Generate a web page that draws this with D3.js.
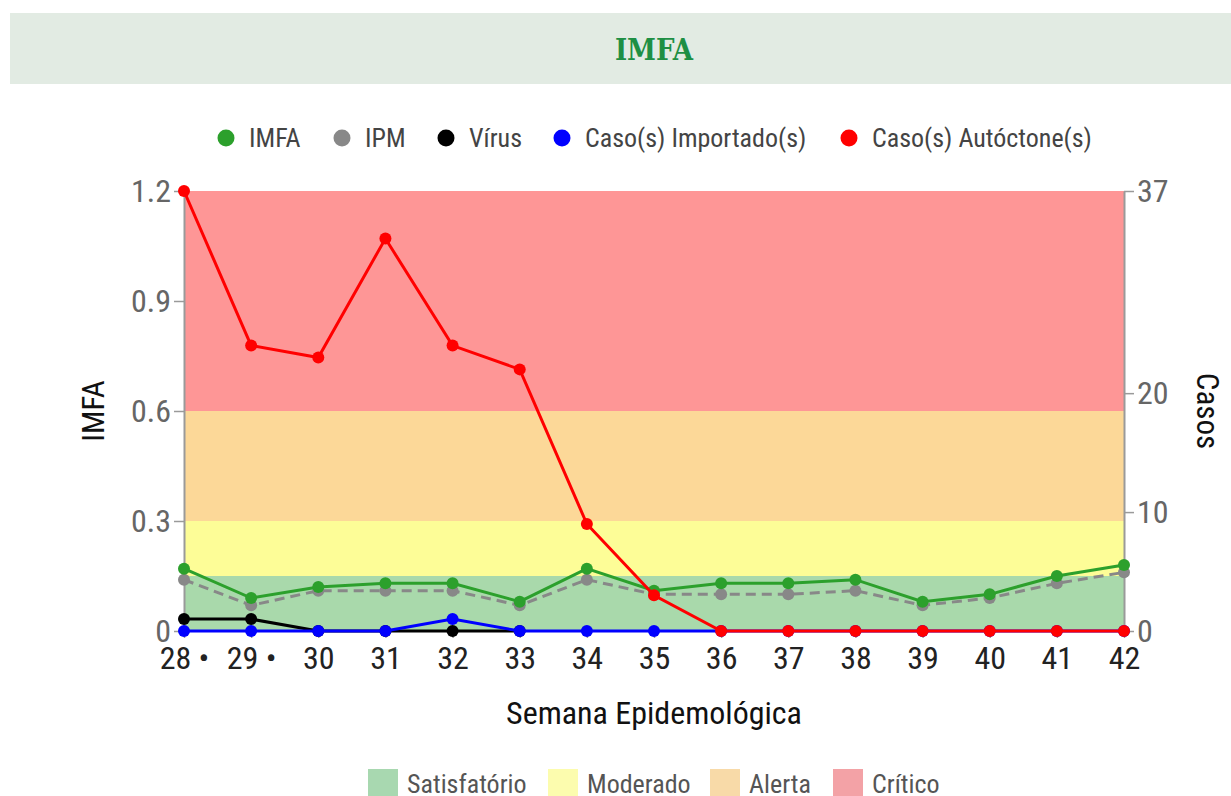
<!DOCTYPE html>
<html>
<head>
<meta charset="utf-8">
<script src="https://cdn.jsdelivr.net/npm/d3@7"></script>
<style>
  body { margin: 0; background: #fff; }
  svg text { font-family: "Roboto Condensed", "Liberation Sans Narrow", "DejaVu Sans Condensed", sans-serif; }
  .title { font-family: "Roboto Slab", "DejaVu Serif Condensed", "DejaVu Serif", serif !important; font-weight: bold; }
</style>
</head>
<body>
<div id="chart"></div>
<script>
/*********************************************************/
// data
const weeks = ["28", "29", "30", "31", "32", "33", "34", "35", "36", "37", "38", "39", "40", "41", "42"];
const weekLabels = ["28 •", "29 •", "30", "31", "32", "33", "34", "35", "36", "37", "38", "39", "40", "41", "42"];
const imfa = [0.17, 0.09, 0.12, 0.13, 0.13, 0.08, 0.17, 0.11, 0.13, 0.13, 0.14, 0.08, 0.10, 0.15, 0.18];
const ipm = [0.14, 0.07, 0.11, 0.11, 0.11, 0.07, 0.14, 0.10, 0.10, 0.10, 0.11, 0.07, 0.09, 0.13, 0.16];
const virus = [1, 1, 0, 0, 0, 0, null, null, null, null, null, null, null, null, null];
const importados = [0, 0, 0, 0, 1, 0, 0, 0, 0, 0, 0, 0, 0, 0, 0];
const autoctones = [37, 24, 23, 33, 24, 22, 9, 3, 0, 0, 0, 0, 0, 0, 0];

const leftTicks = [0, 0.3, 0.6, 0.9, 1.2];
const rightTicks = [0, 10, 20, 37];

const bandNames = ["Satisfatório", "Moderado", "Alerta", "Crítico"];
const bandLimits = [0, 0.15, 0.3, 0.6, 1.2];
const bandColors = ["#a9d9ab", "#fdfd97", "#fcd898", "#fe9696"];
const legendBandColors = ["#a8d8b0", "#fcfcae", "#f8daa8", "#f3a2a6"];

const seriesNames = ["IMFA", "IPM", "Vírus", "Caso(s) Importado(s)", "Caso(s) Autóctone(s)"];
const seriesColors = ["#2ca02c", "#888888", "#000000", "#0000ff", "#ff0000"];

/*********************************************************/
const svgWidth = 1231;
const svgHeight = 796;

const chartMargin = { top: 191, right: 107, bottom: 165, left: 184 };
const chartWidth = svgWidth - chartMargin.left - chartMargin.right;
const chartHeight = svgHeight - chartMargin.top - chartMargin.bottom;

const svg = d3.select("#chart")
  .append("svg")
  .attr("width", svgWidth)
  .attr("height", svgHeight);

// title banner
svg.append("rect")
  .attr("x", 10).attr("y", 13)
  .attr("width", 1221).attr("height", 71)
  .attr("fill", "#e2ebe3");

svg.append("text")
  .classed("title", true)
  .text("IMFA")
  .attr("x", 654).attr("y", 60)
  .attr("text-anchor", "middle")
  .attr("font-size", "29px")
  .attr("fill", "#1e8f44");

const chartGroup = svg.append("g")
  .attr("transform", `translate(${chartMargin.left}, ${chartMargin.top})`);

/********** scales **********/
const xScale = d3.scalePoint()
  .domain(weeks)
  .range([0, chartWidth]);

const yLeft = d3.scaleLinear()
  .domain([0, 1.2])
  .range([chartHeight, 0]);

const yRight = d3.scaleLinear()
  .domain([0, 37])
  .range([chartHeight, 0]);

/********** background bands **********/
chartGroup.selectAll(".band")
  .data(bandNames)
  .enter()
  .append("rect")
  .classed("band", true)
  .attr("x", 0)
  .attr("width", chartWidth)
  .attr("y", (d, i) => yLeft(bandLimits[i + 1]))
  .attr("height", (d, i) => yLeft(bandLimits[i]) - yLeft(bandLimits[i + 1]))
  .attr("fill", (d, i) => bandColors[i]);

/********** axes **********/
const leftAxis = d3.axisLeft(yLeft)
  .tickValues(leftTicks)
  .tickFormat(d => d === 0 ? "0" : d3.format(".1f")(d))
  .tickSizeInner(10).tickSizeOuter(0).tickPadding(3);

const rightAxis = d3.axisRight(yRight)
  .tickValues(rightTicks)
  .tickSizeInner(10).tickSizeOuter(0).tickPadding(3);

const bottomAxis = d3.axisBottom(xScale)
  .tickFormat((d, i) => weekLabels[i])
  .tickSizeInner(7).tickSizeOuter(0).tickPadding(8);

function styleAxis(g, color, size) {
  g.select(".domain").attr("stroke", "#9a9a9a").attr("stroke-width", 2);
  g.selectAll(".tick line").attr("stroke", "#9a9a9a").attr("stroke-width", 1.5);
  g.selectAll(".tick text").attr("fill", color).attr("font-size", size);
}

chartGroup.append("g")
  .call(leftAxis)
  .call(g => styleAxis(g, "#666", "32px"));

chartGroup.append("g")
  .attr("transform", `translate(${chartWidth},0)`)
  .call(rightAxis)
  .call(g => styleAxis(g, "#666", "32px"));

const xAxisG = chartGroup.append("g")
  .attr("transform", `translate(0,${chartHeight})`)
  .call(bottomAxis)
  .call(g => styleAxis(g, "#222", "32px"));
xAxisG.select(".domain").remove();

/********** axis titles **********/
chartGroup.append("text")
  .text("IMFA")
  .attr("transform", "rotate(-90)")
  .attr("x", -chartHeight / 2)
  .attr("y", -80)
  .attr("text-anchor", "middle")
  .attr("font-size", "31px")
  .attr("fill", "#111");

chartGroup.append("text")
  .text("Casos")
  .attr("transform", "rotate(90)")
  .attr("x", chartHeight / 2)
  .attr("y", -(chartWidth + 73))
  .attr("text-anchor", "middle")
  .attr("font-size", "31px")
  .attr("fill", "#111");

chartGroup.append("text")
  .text("Semana Epidemológica")
  .attr("x", chartWidth / 2)
  .attr("y", chartHeight + 93)
  .attr("text-anchor", "middle")
  .attr("font-size", "32px")
  .attr("fill", "#111");

/********** lines and points **********/
function drawSeries(values, scale, color, dashed) {
  const line = d3.line()
    .defined(d => d !== null)
    .x((d, i) => xScale(weeks[i]))
    .y(d => scale(d));

  chartGroup.append("path")
    .datum(values)
    .attr("fill", "none")
    .attr("stroke", color)
    .attr("stroke-width", 3)
    .attr("stroke-dasharray", dashed ? "10,6" : null)
    .attr("d", line);

  chartGroup.selectAll(null)
    .data(values.map((v, i) => ({ v: v, w: weeks[i] })).filter(d => d.v !== null))
    .enter()
    .append("circle")
    .attr("cx", d => xScale(d.w))
    .attr("cy", d => scale(d.v))
    .attr("r", 6)
    .attr("fill", color);
}

drawSeries(ipm, yLeft, seriesColors[1], true);
drawSeries(imfa, yLeft, seriesColors[0], false);
drawSeries(virus, yRight, seriesColors[2], false);
drawSeries(importados, yRight, seriesColors[3], false);
drawSeries(autoctones, yRight, seriesColors[4], false);

/********** top legend **********/
const legendX = [226, 342, 446, 562, 849];
const topLegend = svg.append("g");
seriesNames.forEach((name, i) => {
  topLegend.append("circle")
    .attr("cx", legendX[i]).attr("cy", 138)
    .attr("r", 8.5)
    .attr("fill", seriesColors[i]);
  topLegend.append("text")
    .text(name)
    .attr("x", legendX[i] + 23).attr("y", 147)
    .attr("font-size", "26px")
    .attr("fill", "#444");
});

/********** bottom legend **********/
const bandLegendX = [368, 548, 710, 833];
const bottomLegend = svg.append("g");
bandNames.forEach((name, i) => {
  bottomLegend.append("rect")
    .attr("x", bandLegendX[i]).attr("y", 769)
    .attr("width", 30).attr("height", 27)
    .attr("fill", legendBandColors[i]);
  bottomLegend.append("text")
    .text(name)
    .attr("x", bandLegendX[i] + 39).attr("y", 793)
    .attr("font-size", "26px")
    .attr("fill", "#555");
});
</script>
</body>
</html>
